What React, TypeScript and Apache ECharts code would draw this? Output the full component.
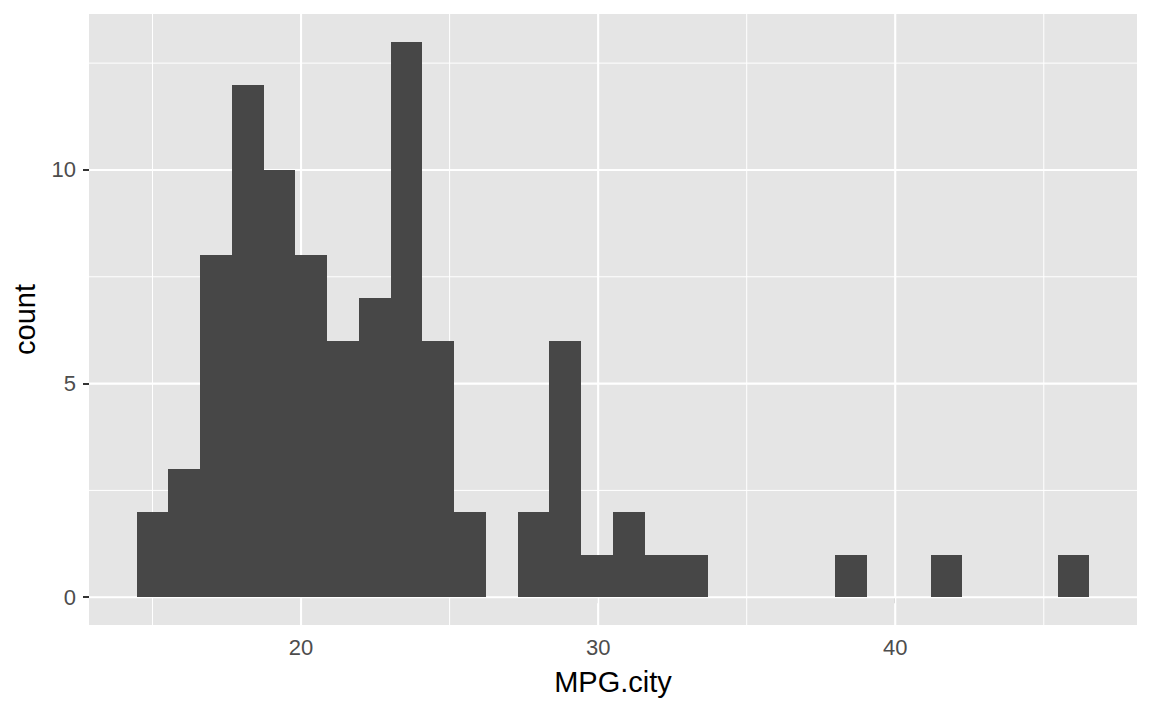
import React, { useEffect, useRef } from "react";
import * as echarts from "echarts";

// Histogram of MPG.city (30 bins, bin width = (46-15)/29)
const binCounts: number[] = [2, 3, 8, 12, 10, 8, 6, 7, 13, 6, 2, 0, 2, 6, 1, 2, 1, 1, 0, 0, 0, 0, 1, 0, 0, 1, 0, 0, 0, 1];
const dataMin = 15;
const dataMax = 46;
const xTicks: number[] = [20, 30, 40];
const xMinor: number[] = [15, 25, 35, 45];
const yTicks: number[] = [0, 5, 10];
const yMinor: number[] = [2.5, 7.5, 12.5];

export default function App() {
  const ref = useRef<HTMLDivElement>(null);
  useEffect(() => {
    document.body.style.margin = "0";
    const chart = echarts.init(ref.current!, null, { renderer: "svg" });
    const bw = (dataMax - dataMin) / (binCounts.length - 1);
    const origin = dataMin - bw / 2;
    const bars = binCounts.map((c, i) => [origin + i * bw, origin + (i + 1) * bw, c]);
    const xLo = origin, xHi = origin + binCounts.length * bw;
    const xPad = (xHi - xLo) * 0.05;
    const yMaxData = Math.max(...binCounts);
    const yPad = yMaxData * 0.05;
    const xMinAx = xLo - xPad, xMaxAx = xHi + xPad;
    const yMinAx = -yPad, yMaxAx = yMaxData + yPad;

    const gridData: any[] = [];
    xMinor.forEach((v) => gridData.push([v, 0, 0, 1]));
    yMinor.forEach((v) => gridData.push([0, v, 1, 1]));
    xTicks.forEach((v) => gridData.push([v, 0, 0, 2.1]));
    yTicks.forEach((v) => gridData.push([0, v, 1, 2.1]));

    const font = "'Liberation Sans', Arial, Helvetica, sans-serif";
    chart.setOption({
      animation: false,
      grid: {
        left: 89, right: 15, top: 14, bottom: 86,
        show: true, backgroundColor: "#E5E5E5", borderWidth: 0,
      },
      xAxis: {
        type: "value", min: xMinAx, max: xMaxAx,
        name: "MPG.city", nameLocation: "middle", nameGap: 42,
        nameTextStyle: { fontFamily: font, fontSize: 29, color: "#000" },
        axisLine: { show: false },
        splitLine: { show: false },
        axisTick: { show: true, length: 6, lineStyle: { color: "#333", width: 2 }, customValues: xTicks },
        axisLabel: { customValues: xTicks, fontFamily: font, fontSize: 22, color: "#4D4D4D", margin: 11 },
      },
      yAxis: {
        type: "value", min: yMinAx, max: yMaxAx,
        name: "count", nameLocation: "middle", nameGap: 50,
        nameTextStyle: { fontFamily: font, fontSize: 29, color: "#000" },
        axisLine: { show: false },
        splitLine: { show: false },
        axisTick: { show: true, length: 6, lineStyle: { color: "#333", width: 2 }, customValues: yTicks },
        axisLabel: { customValues: yTicks, fontFamily: font, fontSize: 22, color: "#4D4D4D", margin: 13 },
      },
      series: [
        {
          type: "custom",
          silent: true,
          data: gridData,
          renderItem: (params: any, api: any) => {
            const v0 = api.value(0), v1 = api.value(1), dir = api.value(2), w = api.value(3);
            let p1, p2;
            if (dir === 0) {
              p1 = api.coord([v0, yMinAx]);
              p2 = api.coord([v0, yMaxAx]);
            } else {
              p1 = api.coord([xMinAx, v1]);
              p2 = api.coord([xMaxAx, v1]);
            }
            return {
              type: "line",
              shape: { x1: p1[0], y1: p1[1], x2: p2[0], y2: p2[1] },
              style: { stroke: "#FFFFFF", lineWidth: w },
            };
          },
        },
        {
          type: "custom",
          data: bars,
          renderItem: (params: any, api: any) => {
            if (api.value(2) <= 0) return null;
            const a = api.coord([api.value(0), 0]);
            const b = api.coord([api.value(1), api.value(2)]);
            const x0 = Math.round(a[0]), x1 = Math.round(b[0]);
            const y0 = Math.round(a[1]), y1 = Math.round(b[1]);
            return {
              type: "rect",
              shape: { x: x0, y: y1, width: x1 - x0, height: y0 - y1 },
              style: { fill: "#474747" },
            };
          },
        },
      ],
    });
    return () => chart.dispose();
  }, []);
  return <div ref={ref} style={{ width: 1152, height: 711 }} />;
}
